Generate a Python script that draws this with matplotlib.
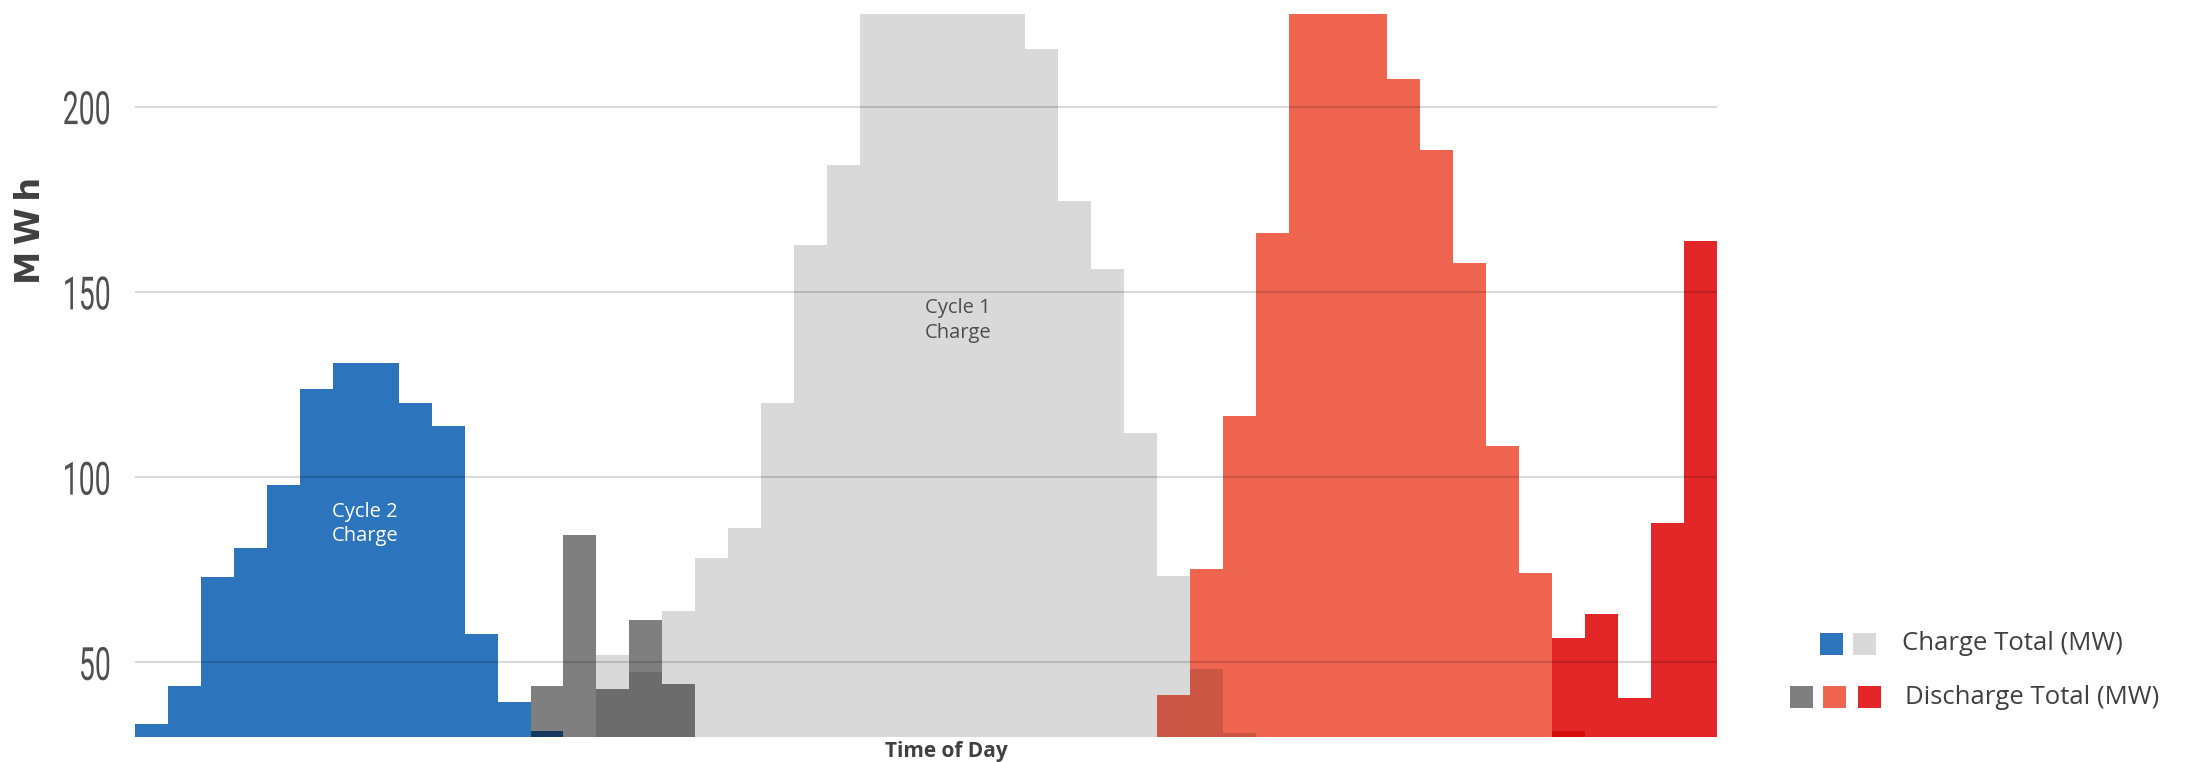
import itertools

import matplotlib
matplotlib.use("Agg")
import matplotlib.pyplot as plt
import numpy as np
from matplotlib.colors import to_rgb
from matplotlib.patches import Rectangle
from matplotlib.patheffects import AbstractPathEffect
from matplotlib.transforms import Affine2D

W, H = 2189, 762
N_SLOTS = 48  # half-hour slots across the day

# MWh per slot, each series listed from its first slot
cycle2_charge_start = 0
cycle2_charge = [33.5, 43.7, 73.1, 80.8, 97.8, 123.9, 130.7, 130.7, 120.1,
                 113.7, 57.6, 39.4, 31.5]
early_discharge_start = 12
early_discharge = [43.7, 84.3, 42.8, 61.4, 44.2]
cycle1_charge_start = 14
cycle1_charge = [52.0, 47.5, 64.0, 78.1, 86.4, 120.0, 162.6, 184.3,
                 236.0, 248.0, 252.0, 246.0, 233.0,
                 215.6, 174.6, 156.2, 111.9, 73.3, 48.2, 31.0]
evening_discharge_start = 31
evening_discharge = [41.1, 75.2, 116.6, 166.0, 238.0, 246.0, 231.0, 207.5,
                     188.2, 157.8, 108.4, 74.0, 31.5]
late_discharge_start = 43
late_discharge = [56.6, 63.0, 40.3, 87.5, 163.6]

y_ticks = [50, 100, 150, 200]

BLUE = "#2C74BC"
LIGHT = "#D9D9D9"
GRAY = "#7F7F7F"
SALMON = "#F06550"
RED = "#E32628"
TEXT = "#404040"
TICK = "#505050"


class Squeeze(AbstractPathEffect):
    """Narrow the glyphs horizontally, keeping their right edge in place."""

    def __init__(self, sx):
        super().__init__()
        self.sx = sx

    def draw_path(self, renderer, gc, tpath, affine, rgbFace=None):
        x1 = tpath.get_extents().x1
        narrow = Affine2D().translate(-x1, 0).scale(self.sx, 1).translate(x1, 0)
        renderer.draw_path(gc, tpath, narrow + affine, rgbFace)


def full_day(start, vals):
    arr = np.zeros(N_SLOTS)
    arr[start:start + len(vals)] = vals
    return arr


def multiply(c1, c2):
    # overlapping areas are shaded as a multiply blend of both fills
    return tuple(a * b for a, b in zip(to_rgb(c1), to_rgb(c2)))


layers = [
    (full_day(cycle2_charge_start, cycle2_charge), BLUE),
    (full_day(early_discharge_start, early_discharge), GRAY),
    (full_day(cycle1_charge_start, cycle1_charge), LIGHT),
    (full_day(evening_discharge_start, evening_discharge), SALMON),
    (full_day(late_discharge_start, late_discharge), RED),
]

fig = plt.figure(figsize=(W / 100, H / 100), dpi=100)
ax = fig.add_axes([135 / W, 1 - 736.5 / H, 1582 / W, 722.5 / H])

edges = np.arange(N_SLOTS + 1)
for vals, col in layers:
    ax.stairs(vals, edges, baseline=0, fill=True, color=col, lw=0, zorder=1)
for (a, ca), (b, cb) in itertools.combinations(layers, 2):
    ov = np.minimum(a, b)
    if ov.any():
        ax.stairs(ov, edges, baseline=0, fill=True, color=multiply(ca, cb),
                  lw=0, zorder=1.2)

ax.set_xlim(0, N_SLOTS)
ax.set_ylim(30, 225)
ax.set_xticks([])
ax.set_yticks(y_ticks)
ax.set_axisbelow(False)
ax.yaxis.grid(True, color="black", alpha=0.15, lw=1.5)
ax.tick_params(axis="y", length=0, pad=16.6, labelsize=33, labelcolor=TICK)
for lbl in ax.get_yticklabels():
    lbl.set_fontfamily(["Roboto", "DejaVu Sans"])
    lbl.set_path_effects([Squeeze(0.62)])
for sp in ax.spines.values():
    sp.set_visible(False)

ax.text(6.98, 87.3, "Cycle 2\nCharge", ha="center", va="center",
        color="white", fontsize=14.5, family="Open Sans", linespacing=1.3)
ax.text(24.98, 142.3, "Cycle 1\nCharge", ha="center", va="center",
        color="#4D4D4D", fontsize=14.5, family="Open Sans", linespacing=1.3)

ax.set_xlabel("Time of Day", fontsize=15, fontweight="bold", color=TEXT,
              family="Open Sans")
ax.xaxis.set_label_coords(0.513, -0.006)

fig.text(30 / W, 1 - 230 / H, "M\u2009W\u2009h", rotation=90, ha="center",
         va="center", fontsize=24, fontweight="bold", color=TEXT,
         family="DejaVu Sans")

# legend: colour chips followed by the series name
legend_rows = [
    ("Charge Total (MW)", [BLUE, LIGHT], [1820, 1853], 633, 1902),
    ("Discharge Total (MW)", [GRAY, SALMON, RED], [1790, 1823, 1858], 686, 1905),
]
for label, cols, xs, ytop, xtext in legend_rows:
    for x, c in zip(xs, cols):
        fig.add_artist(Rectangle((x / W, 1 - (ytop + 22) / H), 23 / W, 22 / H,
                                 transform=fig.transFigure, color=c, lw=0))
    fig.text(xtext / W, 1 - (ytop + 11) / H, label, ha="left", va="center",
             fontsize=18.5, color=TEXT, family="Open Sans")

fig.savefig("out.png", dpi=100, facecolor="white")
